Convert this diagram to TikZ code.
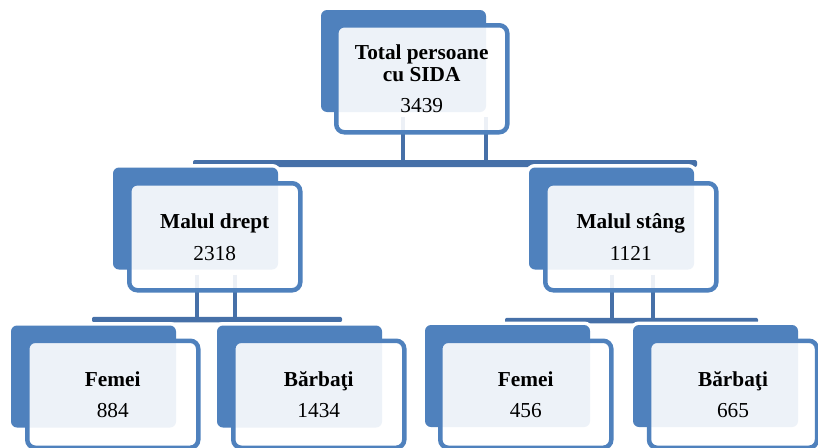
\documentclass[tikz,border=0pt]{standalone}
\usepackage{fontspec}
\setmainfont{Liberation Serif}
\usetikzlibrary{backgrounds}
\definecolor{accent}{HTML}{4F81BD}
\definecolor{linkblue}{HTML}{4670A8}
\tikzset{
  backbox/.style={rectangle, fill=accent, rounded corners=6pt, inner sep=0pt,
    minimum width=165pt, minimum height=102pt,
    preaction={draw=white, line width=7pt}},
  framebox/.style={rectangle, draw=accent, line width=4.5pt, fill=white,
    fill opacity=0.9, text opacity=1, rounded corners=8pt, inner sep=0pt,
    minimum width=171pt, minimum height=107pt, align=center,
    font=\fontsize{21.3}{22}\selectfont},
  barbox/.style={rectangle, fill=linkblue, rounded corners=2pt, inner sep=0pt},
  link/.style={draw=linkblue, line width=4.5pt},
}
\begin{document}
\begin{tikzpicture}[x=1pt,y=-1pt]
\useasboundingbox (0,0) rectangle (818,447);
% back boxes
\node[backbox] (b0) at (403.5,61) {};
\node[backbox] (b1) at (195.5,218.5) {};
\node[backbox] (b2) at (611.5,218.5) {};
\node[backbox] (b3) at (93.5,376.5) {};
\node[backbox] (b4) at (299.5,376.5) {};
\node[backbox] (b5) at (507.5,376) {};
\node[backbox] (b6) at (715.5,376) {};
% frames with text
\node[framebox] (f0) at (421.75,78.75) {\textbf{Total persoane}\\\textbf{cu SIDA}\\[9pt]3439};
\node[framebox] (f1) at (214.75,236.75) {\textbf{Malul drept}\\[10pt]2318};
\node[framebox] (f2) at (630.75,236.75) {\textbf{Malul stâng}\\[10pt]1121};
\node[framebox] (f3) at (112.75,394.25) {\textbf{Femei}\\[9pt]884};
\node[framebox] (f4) at (318.75,394.25) {\textbf{Bărbaţi}\\[9pt]1434};
\node[framebox] (f5) at (525.75,394.25) {\textbf{Femei}\\[9pt]456};
\node[framebox, minimum width=168pt] (f6) at (733,394.25) {\textbf{Bărbaţi}\\[9pt]665};
\begin{scope}[on background layer]
% bars
\node[barbox, minimum width=504pt, minimum height=7pt] (bar0) at (445,163.5) {};
\node[barbox, minimum width=250pt, minimum height=5.5pt] (bar1) at (217,319.5) {};
\node[barbox, minimum width=253pt, minimum height=5.5pt] (bar2) at (631.5,320.5) {};
% vertical connectors
\draw[link] ([xshift=-0.5pt,yshift=-5pt]b0.south) -- ([xshift=-0.5pt]b0.south |- bar0.center);
\draw[link] ([xshift=82.5pt,yshift=-5pt]b0.south) -- ([xshift=82.5pt]b0.south |- bar0.center);
\draw[link] ([xshift=1.5pt,yshift=-5pt]b1.south) -- ([xshift=1.5pt]b1.south |- bar1.center);
\draw[link] ([xshift=39.5pt,yshift=-5pt]b1.south) -- ([xshift=39.5pt]b1.south |- bar1.center);
\draw[link] ([xshift=0.5pt,yshift=-5pt]b2.south) -- ([xshift=0.5pt]b2.south |- bar2.center);
\draw[link] ([xshift=41.5pt,yshift=-5pt]b2.south) -- ([xshift=41.5pt]b2.south |- bar2.center);
\end{scope}
\end{tikzpicture}
\end{document}
